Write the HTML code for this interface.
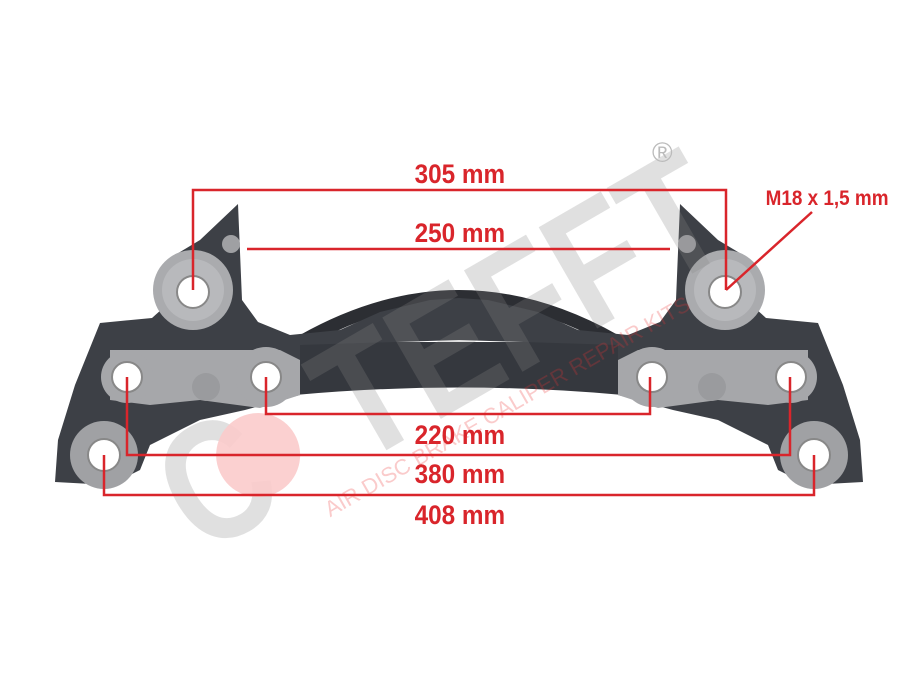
<!DOCTYPE html>
<html><head><style>body{margin:0;background:#fff}svg{display:block}</style></head><body>
<svg width="920" height="690" viewBox="0 0 920 690" xmlns="http://www.w3.org/2000/svg" font-family="Liberation Sans, sans-serif">
<defs>
<g id="half">
<path d="M55,482 L58,440 L75,385 L100,323 L152,318 L172,300 L160,280 L175,255 L200,240 L238,204 L242,300 L258,322 L290,335 L340,330 L380,312 L430,300 L459,298 L459,340 L300,345 L300,395 L245,410 L200,420 L150,445 L140,470 L110,485 Z" fill="#3d4046"/>
<path d="M110,350 L280,350 L300,360 L300,395 L260,408 L200,400 L150,405 L110,400 Z" fill="#a6a7aa"/>
<circle cx="127" cy="377" r="26" fill="#a6a7aa"/>
<circle cx="266" cy="377" r="30" fill="#a6a7aa"/>
<circle cx="104" cy="455" r="34" fill="#a0a1a4"/>
<circle cx="193" cy="290" r="40" fill="#aaabae"/>
<circle cx="193" cy="290" r="31" fill="#b8b9bc"/>
<circle cx="206" cy="387" r="14" fill="#9a9b9e"/>
<circle cx="231" cy="244" r="9" fill="#9fa0a3"/>
<circle cx="193" cy="292" r="16" fill="#fff" stroke="#888" stroke-width="2"/>
<circle cx="127" cy="377" r="15" fill="#fff" stroke="#888" stroke-width="2"/>
<circle cx="266" cy="377" r="15" fill="#fff" stroke="#888" stroke-width="2"/>
<circle cx="104" cy="455" r="16" fill="#fff" stroke="#888" stroke-width="2"/>
</g>
</defs>
<path d="M300,335 Q380,290 459,290 L459,305 Q380,305 320,340 Z" fill="#2c2e33"/>
<path d="M618,335 Q538,290 459,290 L459,305 Q538,305 598,340 Z" fill="#2c2e33"/>
<path d="M295,342 L623,342 L623,395 Q459,380 295,395 Z" fill="#35383e"/>
<use href="#half"/>
<use href="#half" transform="translate(918,0) scale(-1,1)"/>
<g transform="rotate(-30 440 350)" opacity="0.25">
<text x="440" y="410" font-size="170" font-weight="bold" fill="#888" text-anchor="middle" textLength="620" lengthAdjust="spacingAndGlyphs">C&#160;&#160;TEFFT</text>
<circle cx="230" cy="350" r="42" fill="#e33" opacity="0.9"/>
<text x="470" y="440" font-size="22" fill="#e33" text-anchor="middle">AIR DISC BRAKE CALIPER REPAIR KITS</text>
</g>
<text x="652" y="162" font-size="28" fill="#bbb">®</text>
<g stroke="#d9252b" stroke-width="2.5" fill="none">
<path d="M193,290 V190 H726 V290"/>
<path d="M247,249 H670"/>
<path d="M266,377 V414 H650 V377"/>
<path d="M127,377 V455 H790 V377"/>
<path d="M104,455 V495 H814 V455"/>
<path d="M726,290 L812,212"/>
</g>
<g fill="#d9252b" font-size="27" text-anchor="middle" font-weight="bold" transform="scale(0.9,1)">
<text x="511" y="183">305 mm</text>
<text x="511" y="242">250 mm</text>
<text x="511" y="444">220 mm</text>
<text x="511" y="483">380 mm</text>
<text x="511" y="524">408 mm</text>
<text x="919" y="205" font-size="21">M18 x 1,5 mm</text>
</g>
</svg>
</body></html>
